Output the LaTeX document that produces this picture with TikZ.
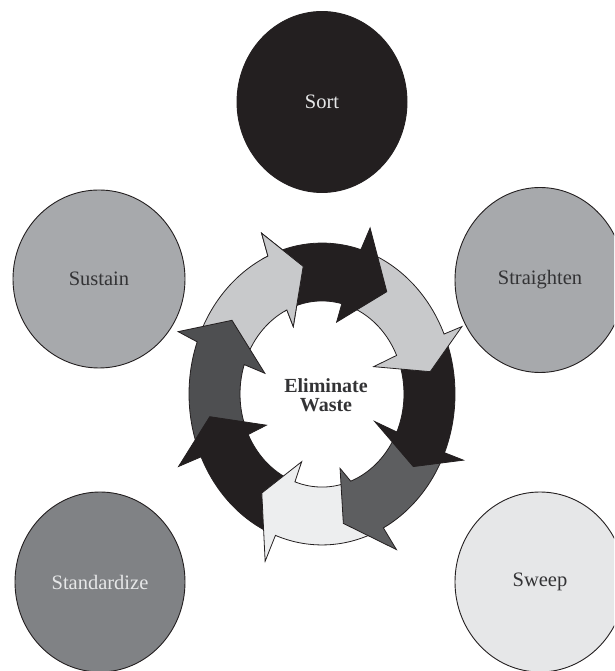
\documentclass[tikz,border=0pt]{standalone}
\usepackage{fontspec}
\setmainfont{Liberation Serif}
\usetikzlibrary{shapes.geometric}
\definecolor{ink}{HTML}{231F20}
\definecolor{cBlack}{HTML}{231F20}
\definecolor{cLight}{HTML}{C8C9CB}
\definecolor{cPale}{HTML}{EDEEEF}
\definecolor{cDarkA}{HTML}{4E4F51}
\definecolor{cDarkB}{HTML}{5D5E60}
\definecolor{bMid}{HTML}{A7A9AC}
\definecolor{bDark}{HTML}{808285}
\definecolor{bPale}{HTML}{E6E7E8}
\definecolor{txtLight}{HTML}{E6E7E8}
\definecolor{txtDark}{HTML}{333335}
\newcommand\ringarrow[6]{%
  \path[arr, fill=#1] (#2:133) arc[start angle=#2, end angle=#4, radius=133]
     -- #6 -- (#5:82) arc[start angle=#5, end angle=#3, radius=82] -- cycle;}
\begin{document}
\begin{tikzpicture}[x=1pt,y=1pt,
  bub/.style={ellipse, draw=ink, line width=0.9pt, inner sep=0pt,
    font=\fontsize{20.5}{24}\selectfont},
  arr/.style={draw=ink, line width=0.8pt, line join=miter}]
\useasboundingbox (0,0) rectangle (614,671);
\clip (0,0) rectangle (614,671);
% outer bubbles
\node[bub, fill=cBlack, text=txtLight, minimum width=170pt, minimum height=181pt] (sort) at (322,569) {Sort};
\node[bub, fill=bMid, text=txtDark, minimum width=172pt, minimum height=178pt] (sustain) at (99,392) {Sustain};
\node[bub, fill=bMid, text=txtDark, minimum width=170pt, minimum height=185pt] (straighten) at (540,391) {Straighten};
\node[bub, fill=bDark, text=txtLight, minimum width=170pt, minimum height=180pt] (standardize) at (100,89) {Standardize};
\node[bub, fill=bPale, text=txtDark, minimum width=170pt, minimum height=180pt] (sweep) at (540,89) {Sweep};
% ring of arrows
\begin{scope}[shift={(322,277)}, yscale=1.135]
\ringarrow{cLight}{-200.2}{-198.4}{-246}{-244.6}{(-246.9:154) -- (-260.5:114) -- (-244.2:66)}
\ringarrow{cDarkA}{-155.4}{-154.2}{-200.2}{-198.4}{(-200.9:154) -- (-215.8:111) -- (-197.7:60)}
\ringarrow{cBlack}{-110.5}{-109.3}{-155.4}{-154.2}{(-156:157) -- (-169.9:114) -- (-153.7:62)}
\ringarrow{cPale}{-62.5}{-69.5}{-110.5}{-109.3}{(-111.1:158) -- (-124.6:106) -- (-108.8:63)}
\ringarrow{cDarkB}{-22.9}{-24.1}{-62.5}{-69.5}{(-61.5:156) -- (-79.4:116) -- (-74.6:68)}
\ringarrow{cBlack}{23.4}{24.5}{-22.9}{-24.1}{(-22.4:153) -- (-35:111.5) -- (-24.7:58)}
\ringarrow{cLight}{73}{76}{23.4}{24.5}{(23:152) -- (10.3:110) -- (25:57)}
\ringarrow{cBlack}{114}{115.4}{73}{76}{(71.8:154) -- (54.3:111) -- (77:65)}
\begin{scope}
\clip (-243:185) -- (-290:185) -- (-290:30) -- (-240:30) -- cycle;
\ringarrow{cLight}{-200.2}{-198.4}{-246}{-244.6}{(-246.9:154) -- (-260.5:114) -- (-244.2:66)}
\end{scope}
\end{scope}
\node[font=\bfseries\fontsize{20}{19.5}\selectfont, align=center, text=txtDark] (core) at (326,276) {Eliminate\\Waste};
\end{tikzpicture}
\end{document}
